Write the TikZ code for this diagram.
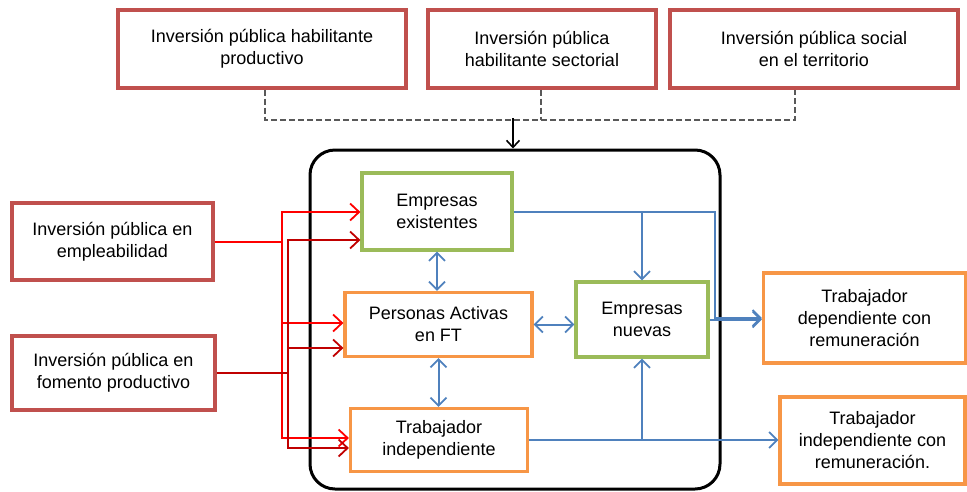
\documentclass[tikz,border=0pt]{standalone}
\usepackage{fontspec}
\setmainfont{Liberation Sans}
\usetikzlibrary{arrows.meta,calc}
\definecolor{boxred}{HTML}{C0504D}
\definecolor{boxgreen}{HTML}{9BBB59}
\definecolor{boxorange}{HTML}{F79646}
\definecolor{lineblue}{HTML}{4F81BD}
\definecolor{redA}{HTML}{FF0000}
\definecolor{redB}{HTML}{C00000}
\definecolor{dashgray}{HTML}{595959}
\tikzset{
  base/.style={align=center, font=\fontsize{18}{22}\selectfont, inner sep=0pt, fill=white},
  redbox/.style={base, draw=boxred, line width=3.2pt},
  greenbox/.style={base, draw=boxgreen, line width=3.2pt},
  orangebox/.style={base, draw=boxorange, line width=3.2pt},
  bigbox/.style={draw=black, line width=3pt, rounded corners=25pt},
  redarrowA/.style={draw=redA, line width=2pt, -{Straight Barb[length=9pt,width=17pt,line width=1.8pt]}},
  redarrowB/.style={draw=redB, line width=2pt, -{Straight Barb[length=9pt,width=17pt,line width=1.8pt]}},
  redlineA/.style={draw=redA, line width=2pt},
  redlineB/.style={draw=redB, line width=2pt},
  blueline/.style={draw=lineblue, line width=2pt},
  bluearrow/.style={blueline, -{Straight Barb[length=8pt,width=16pt,line width=1.8pt]}},
  bluedouble/.style={blueline, {Straight Barb[length=8pt,width=16pt,line width=1.8pt]}-{Straight Barb[length=8pt,width=16pt,line width=1.8pt]}},
  dashline/.style={draw=dashgray, line width=1.8pt, dash pattern=on 6pt off 3pt},
  blackarrow/.style={draw=black, line width=1.6pt, -{Straight Barb[length=7pt,width=13pt,line width=1.6pt]}}
}
\begin{document}
\begin{tikzpicture}[x=1pt,y=-1pt]
\useasboundingbox (0,0) rectangle (967,491);
% big container
\node[bigbox, minimum width=410pt, minimum height=339pt] (big) at (515,319.5) {};
% top boxes
\node[redbox, minimum width=288pt, minimum height=78pt] (top1) at (262,49) {Inversión pública habilitante\\productivo};
\node[redbox, minimum width=228pt, minimum height=78pt] (top2) at (542,49) {Inversión pública\\habilitante sectorial};
\node[redbox, minimum width=288pt, minimum height=78pt] (top3) at (814,49) {Inversión pública social\\en el territorio};
% left boxes
\node[redbox, minimum width=201pt, minimum height=77pt] (emp) at (112.5,241.5) {Inversión pública en\\empleabilidad};
\node[redbox, minimum width=203pt, minimum height=74pt] (fom) at (113.5,373) {Inversión pública en\\fomento productivo};
% inner boxes
\node[greenbox, minimum width=150pt, minimum height=77pt] (ee) at (437,211.5) {Empresas\\existentes};
\node[orangebox, minimum width=187pt, minimum height=64pt] (pa) at (438.5,324.5) {Personas Activas\\en FT};
\node[orangebox, minimum width=177pt, minimum height=63pt] (ti) at (439,440) {Trabajador\\independiente};
\node[greenbox, minimum width=132pt, minimum height=75pt] (en) at (642,319.5) {Empresas\\nuevas};
% right boxes
\node[orangebox, minimum width=202pt, minimum height=90pt] (tdr) at (864.5,318) {Trabajador\\dependiente con\\remuneración};
\node[orangebox, minimum width=185pt, minimum height=87pt] (tir) at (872.5,440.5) {Trabajador\\independiente con\\remuneración.};
% dashed connectors from top
\coordinate (hl) at (0,118);
\draw[dashline] ($(top1.south)+(3,0)$) |- ($(top3.south)+(-19,30)$) -- ($(top3.south)+(-19,0)$);
\draw[dashline] ($(top2.south)+(-1,0)$) -- ($(top2.south)+(-1,30)$);
\draw[blackarrow] ($(big.north |- hl)+(-2,0)$) -- ($(big.north)+(-2,0)$);
% red connectors
\coordinate (vA) at (282,0);
\coordinate (vB) at (288,0);
\draw[redlineA] (emp.east) -- (vA |- emp.east);
\draw[redarrowA] (vA |- emp.east) |- ($(ee.west)+(0,0.5)$);
\draw[redarrowA] (vA |- emp.east) |- ($(pa.west)+(0,-1.5)$);
\draw[redarrowA] (vA |- emp.east) |- ($(ti.west)+(0,-2)$);
\draw[redlineB] (fom.east) -- (vB |- fom.east);
\draw[redarrowB] (vB |- fom.east) |- ($(ee.west)+(0,28.5)$);
\draw[redarrowB] (vB |- fom.east) |- ($(pa.west)+(0,23.5)$);
\draw[redarrowB] (vB |- fom.east) |- ($(ti.west)+(0,8)$);
% blue connectors
\coordinate (bx) at (715,0);
\draw[bluearrow] (ee.east) -| (bx |- tdr.west) -- (tdr.west);
\draw[bluearrow] (en.north |- ee.east) -- (en.north);
\draw[bluearrow] (en.east) -- (en.east -| tdr.west);
\draw[bluedouble] (ee.south) -- (ee.south |- pa.north);
\draw[bluedouble] (pa.south) -- (pa.south |- ti.north);
\draw[bluedouble] (pa.east) -- (pa.east -| en.west);
\draw[blueline] (ti.east) -- (en.south |- ti.east);
\draw[bluearrow] (en.south |- ti.east) -- (en.south);
\draw[bluearrow] (en.south |- ti.east) -- (tir.west |- ti.east);
\end{tikzpicture}
\end{document}
